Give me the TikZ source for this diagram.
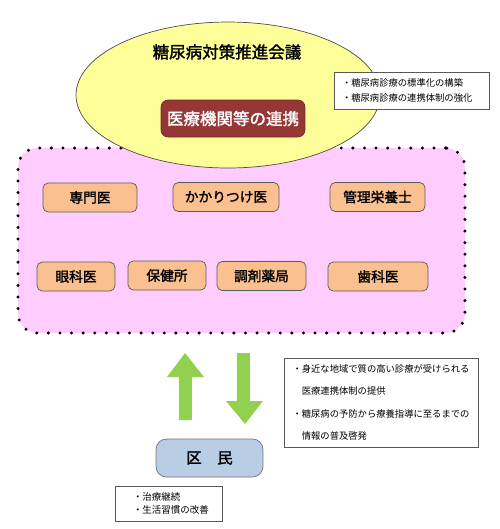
\documentclass[tikz,border=0pt]{standalone}
\usepackage{fontspec}
\setmainfont{Noto Sans CJK JP}
\newfontfamily\cjkbold[FakeBold=1.6]{Noto Sans CJK JP}
\usetikzlibrary{shapes.geometric}

\definecolor{councilyellow}{HTML}{FFFF99}
\definecolor{linkred}{HTML}{953735}
\definecolor{areapink}{HTML}{FFCCFF}
\definecolor{stafforange}{HTML}{FAC090}
\definecolor{arrowgreen}{HTML}{92D050}
\definecolor{citizenblue}{HTML}{B9CDE5}

\tikzset{
  staff/.style={draw=black!65, fill=stafforange, rounded corners=3pt, inner sep=0pt,
    minimum height=0.58cm, font=\cjkbold\fontsize{7.8}{9}\selectfont},
  memo/.style={draw=black!65, fill=white, inner xsep=0.16cm, inner ysep=0pt, align=left,
    font=\fontsize{5.3}{8.5}\selectfont},
  bluearrow/.style={fill=arrowgreen, draw=none}
}

\begin{document}
\begin{tikzpicture}[x=0.02cm, y=-0.02cm]

  \useasboundingbox (0,0) rectangle (500,529);

  \node[draw=black, line width=1.9pt, dash pattern=on 0pt off 6.6pt, line cap=round,
    fill=areapink, rounded corners=11pt, minimum width=8.94cm, minimum height=3.7cm]
    (area) at (241.5,240.5) {};

  \node[ellipse, draw=black!70, fill=councilyellow, minimum width=6.08cm, minimum height=2.92cm,
    inner sep=0pt] (council) at (228,95) {};
  \node[font=\cjkbold\fontsize{9.4}{11}\selectfont] (title) at (227,52) {糖尿病対策推進会議};
  \node[draw=linkred!80!black, fill=linkred, text=white, rounded corners=4pt,
    minimum width=2.88cm, minimum height=0.74cm, inner sep=0pt,
    font=\cjkbold\fontsize{9.4}{11}\selectfont] (link) at (233,118.5) {医療機関等の連携};

  \node[memo, text width=2.78cm, minimum height=0.74cm] (aim) at (411.5,90.5)
    {・糖尿病診療の標準化の構築\\・糖尿病診療の連携体制の強化};

  \node[staff, minimum width=1.88cm] (senmon) at (90,197.5) {専門医};
  \node[staff, minimum width=2.12cm] (kakari) at (226,197) {かかりつけ医};
  \node[staff, minimum width=1.9cm] (eiyou) at (377.5,197) {管理栄養士};
  \node[staff, minimum width=1.56cm] (ganka) at (76,276.5) {眼科医};
  \node[staff, minimum width=1.56cm] (hoken) at (167,275.5) {保健所};
  \node[staff, minimum width=1.78cm] (yakkyoku) at (261.5,276) {調剤薬局};
  \node[staff, minimum width=2cm] (shika) at (378,276.5) {歯科医};

  \filldraw[bluearrow] (185,353) coordinate(uptip) -- (204,377) -- (192,377) -- (192,420)
    -- (179,420) -- (179,377) -- (167,377) -- cycle;
  \filldraw[bluearrow] (245,424) coordinate(downtip) -- (263,401) -- (250,401) -- (250,353)
    -- (237,353) -- (237,401) -- (226,401) -- cycle;

  \node[memo, text width=3.56cm, minimum height=1.78cm, font=\fontsize{5.3}{12.6}\selectfont]
    (service) at (381.5,402.5)
    {・身近な地域で質の高い診療が受けられる\\　医療連携体制の提供\\・糖尿病の予防から療養指導に至るまでの\\　情報の普及啓発};

  \node[draw=black!55, fill=citizenblue, rounded corners=6pt, minimum width=2.14cm,
    minimum height=0.76cm, inner sep=0pt, font=\cjkbold\fontsize{8.8}{10}\selectfont]
    (kumin) at (209.5,458) {区　民};

  \node[memo, inner xsep=0.36cm, text width=1.42cm, minimum height=0.7cm,
    font=\fontsize{5.4}{7.4}\selectfont] (habit) at (168.5,503.5)
    {・治療継続\\・生活習慣の改善};

\end{tikzpicture}
\end{document}
